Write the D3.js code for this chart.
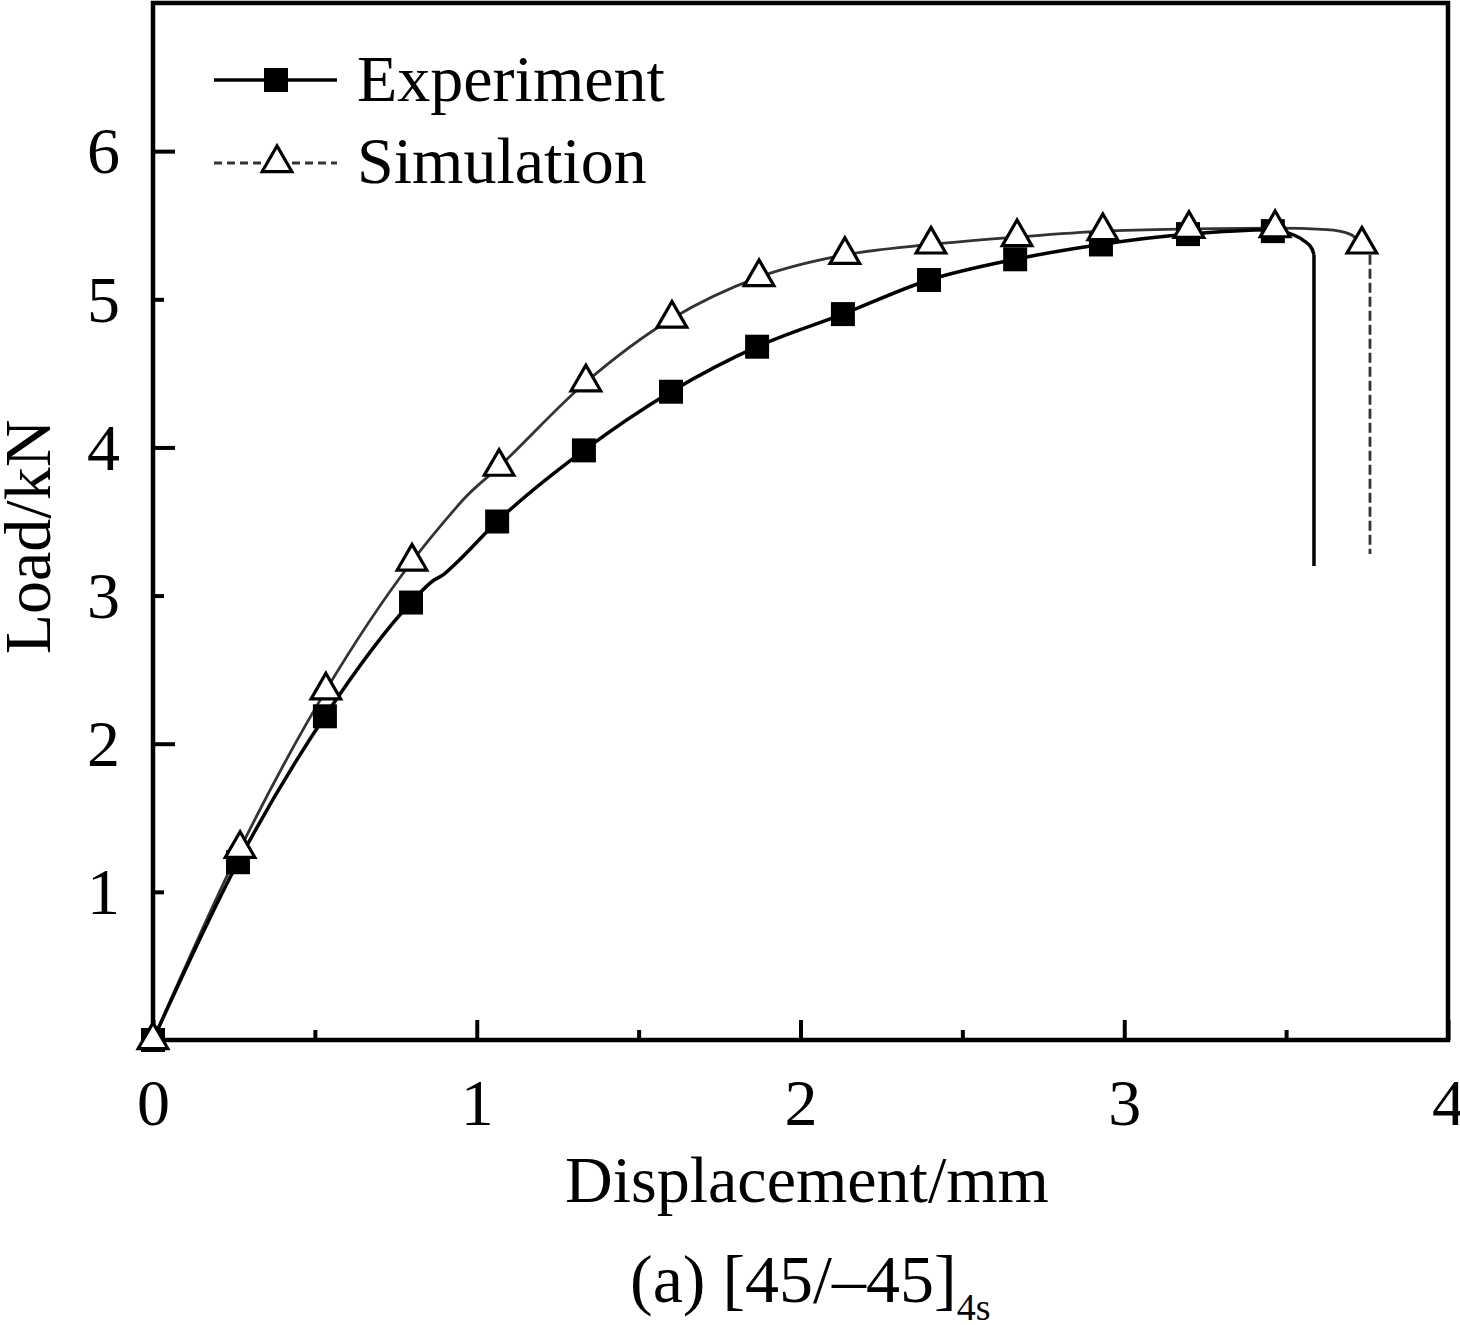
<!DOCTYPE html>
<html>
<head>
<meta charset="utf-8">
<script src="https://cdn.jsdelivr.net/npm/d3@7"></script>
<style>
  body { margin: 0; background: #fff; }
  svg { display: block; }
  text { font-family: "Liberation Serif", "Times New Roman", serif; fill: #000; }
</style>
</head>
<body>
<div id="chart"></div>
<script>
// values
var expDisp = [0, 0.2625, 0.531, 0.797, 0.865, 0.896, 0.927, 1.063, 1.331, 1.600, 1.866, 2.131, 2.397, 2.663, 2.928, 3.197, 3.459, 3.503, 3.552, 3.580, 3.586];
var expLoad = [0, 1.20, 2.185, 2.953, 3.10, 3.14, 3.20, 3.50, 3.98, 4.376, 4.68, 4.90, 5.13, 5.27, 5.37, 5.44, 5.47, 5.45, 5.40, 5.34, 5.30];
var expDropDisp = [3.586, 3.586];
var expDropLoad = [5.30, 3.20];
var expMarkDisp = [0, 0.2625, 0.531, 0.797, 1.063, 1.331, 1.600, 1.866, 2.131, 2.397, 2.663, 2.928, 3.197, 3.459];
var expMarkLoad = [0, 1.20, 2.185, 2.953, 3.50, 3.98, 4.376, 4.68, 4.90, 5.13, 5.27, 5.37, 5.44, 5.46];

var simDisp = [0, 0.269, 0.534, 0.80, 0.935, 0.955, 1.069, 1.337, 1.603, 1.872, 2.137, 2.403, 2.669, 2.934, 3.20, 3.466, 3.626, 3.697, 3.734, 3.755];
var simLoad = [0, 1.29, 2.36, 3.23, 3.59, 3.64, 3.87, 4.44, 4.87, 5.15, 5.30, 5.37, 5.42, 5.46, 5.475, 5.48, 5.47, 5.44, 5.37, 5.31];
var simDropDisp = [3.759, 3.759];
var simDropLoad = [5.30, 3.28];
var simMarkDisp = [0, 0.269, 0.534, 0.80, 1.069, 1.337, 1.603, 1.872, 2.137, 2.403, 2.669, 2.934, 3.20, 3.466, 3.734];
var simMarkLoad = [0, 1.29, 2.36, 3.23, 3.87, 4.44, 4.87, 5.15, 5.30, 5.37, 5.42, 5.46, 5.475, 5.48, 5.37];

var xMajorTicks = [0, 1, 2, 3, 4];
var xMinorTicks = [0.5, 1.5, 2.5, 3.5];
var yTicks = [1, 2, 3, 4, 5, 6];

var seriesNames = ["Experiment", "Simulation"];

var width = 1460, height = 1325;
var plotLeft = 153, plotRight = 1448, plotTop = 3, plotBottom = 1040;
var fontSize = 66;
var fontFamily = "Liberation Serif, Times New Roman, serif";
var simColor = "#333";

var svg = d3.select("#chart").append("svg")
    .attr("width", width)
    .attr("height", height);

var x = d3.scaleLinear().domain([0, 4]).range([plotLeft, plotRight]);
var y = d3.scaleLinear().domain([0, 7]).range([plotBottom, plotTop]);

function zip(xs, ys) {
  return xs.map(function(d, i) { return [d, ys[i]]; });
}

// axes (ticks point inward)
var xAxis = svg.append("g")
    .attr("transform", "translate(0," + plotBottom + ")")
    .call(d3.axisBottom(x).tickValues(xMajorTicks).tickSize(-20).tickPadding(38).tickFormat(d3.format("d")));

var xMinor = svg.append("g")
    .attr("transform", "translate(0," + plotBottom + ")")
    .call(d3.axisBottom(x).tickValues(xMinorTicks).tickSize(-10).tickFormat(""));

var yAxis = svg.append("g")
    .attr("transform", "translate(" + plotLeft + ",0)")
    .call(d3.axisLeft(y).tickValues(yTicks).tickSize(-22).tickPadding(33).tickFormat(d3.format("d")));

// odd load ticks are the short ones
yAxis.selectAll(".tick line")
    .attr("x2", function(d) { return d % 2 === 0 ? 22 : 11; });

[xAxis, xMinor, yAxis].forEach(function(g) {
  g.select(".domain").remove();
  g.selectAll(".tick line").attr("stroke", "#000").attr("stroke-width", 4);
  g.selectAll(".tick text")
      .attr("font-family", fontFamily)
      .attr("font-size", fontSize)
      .attr("fill", "#000");
});
yAxis.selectAll(".tick text").attr("dy", "0.33em");

// frame
svg.append("rect")
    .attr("x", plotLeft)
    .attr("y", plotTop)
    .attr("width", plotRight - plotLeft)
    .attr("height", plotBottom - plotTop)
    .attr("fill", "none")
    .attr("stroke", "#000")
    .attr("stroke-width", 4.5);

var smooth = d3.line()
    .x(function(d) { return x(d[0]); })
    .y(function(d) { return y(d[1]); })
    .curve(d3.curveMonotoneX);

var straight = d3.line()
    .x(function(d) { return x(d[0]); })
    .y(function(d) { return y(d[1]); });

// simulation curve
svg.append("path")
    .attr("d", smooth(zip(simDisp, simLoad)))
    .attr("fill", "none")
    .attr("stroke", simColor)
    .attr("stroke-width", 2.8);

svg.append("path")
    .attr("d", straight(zip(simDropDisp, simDropLoad)))
    .attr("fill", "none")
    .attr("stroke", simColor)
    .attr("stroke-width", 2.8)
    .attr("stroke-dasharray", "10,4");

// experiment curve
svg.append("path")
    .attr("d", smooth(zip(expDisp, expLoad)))
    .attr("fill", "none")
    .attr("stroke", "#000")
    .attr("stroke-width", 3.5);

svg.append("path")
    .attr("d", straight(zip(expDropDisp, expDropLoad)))
    .attr("fill", "none")
    .attr("stroke", "#000")
    .attr("stroke-width", 3.5);

var square = d3.symbol().type(d3.symbolSquare).size(576);
var triangle = d3.symbol().type(d3.symbolTriangle).size(380);

svg.append("g").selectAll("path")
    .data(zip(expMarkDisp, expMarkLoad))
    .enter().append("path")
    .attr("d", square)
    .attr("transform", function(d) { return "translate(" + x(d[0]) + "," + y(d[1]) + ")"; })
    .attr("fill", "#000");

svg.append("g").selectAll("path")
    .data(zip(simMarkDisp, simMarkLoad))
    .enter().append("path")
    .attr("d", triangle)
    .attr("transform", function(d) { return "translate(" + x(d[0]) + "," + y(d[1]) + ")"; })
    .attr("fill", "#fff")
    .attr("stroke", "#000")
    .attr("stroke-width", 3.2);

// legend
var legend = svg.append("g");
legend.append("line")
    .attr("x1", 214).attr("x2", 337).attr("y1", 80).attr("y2", 80)
    .attr("stroke", "#000").attr("stroke-width", 3.5);
legend.append("path")
    .attr("d", square)
    .attr("transform", "translate(276,80)")
    .attr("fill", "#000");
legend.append("text")
    .attr("x", 357).attr("y", 101)
    .attr("font-size", fontSize)
    .text(seriesNames[0]);

legend.append("line")
    .attr("x1", 214).attr("x2", 337).attr("y1", 163).attr("y2", 163)
    .attr("stroke", simColor).attr("stroke-width", 2.8)
    .attr("stroke-dasharray", "8,5");
legend.append("path")
    .attr("d", triangle)
    .attr("transform", "translate(277,163)")
    .attr("fill", "#fff")
    .attr("stroke", "#000")
    .attr("stroke-width", 3.2);
legend.append("text")
    .attr("x", 357).attr("y", 183)
    .attr("font-size", fontSize)
    .text(seriesNames[1]);

// axis titles
svg.append("text")
    .attr("x", 807).attr("y", 1202)
    .attr("text-anchor", "middle")
    .attr("font-size", fontSize)
    .text("Displacement/mm");

svg.append("text")
    .attr("transform", "translate(50,537) rotate(-90)")
    .attr("text-anchor", "middle")
    .attr("font-size", fontSize)
    .text("Load/kN");

// caption
var caption = svg.append("text")
    .attr("x", 630).attr("y", 1302)
    .attr("font-size", 68);
caption.append("tspan").text("(a) [45/\u201345]");
caption.append("tspan")
    .attr("font-size", 38)
    .attr("fill", "#000")
    .attr("dy", 18)
    .text("4s");
</script>
</body>
</html>
